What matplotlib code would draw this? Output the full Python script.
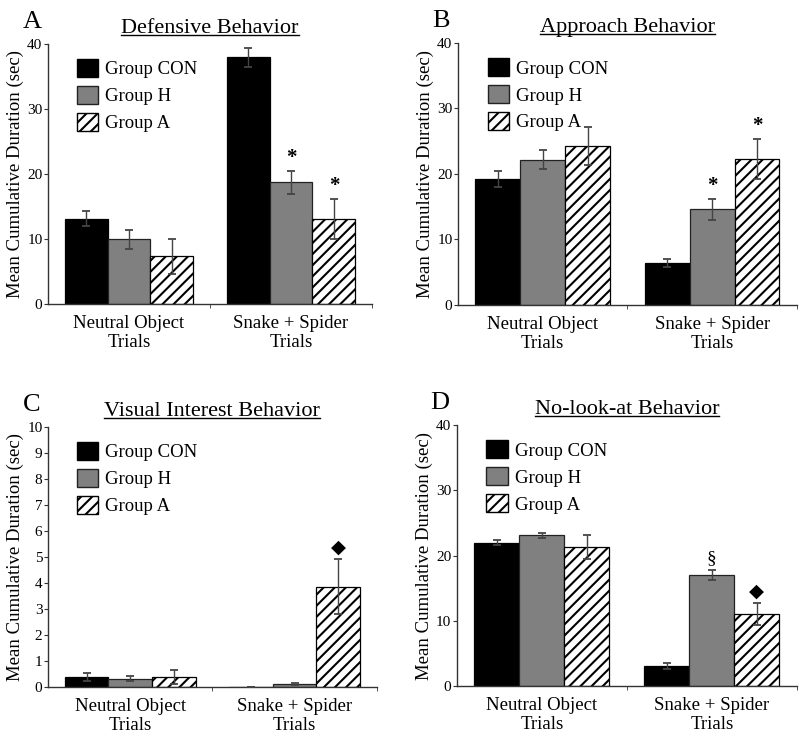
import matplotlib
matplotlib.use('Agg')
import matplotlib.pyplot as plt
from matplotlib.patches import Patch
from matplotlib.lines import Line2D
import numpy as np

plt.rcParams['font.family'] = ['Liberation Serif', 'DejaVu Serif']
plt.rcParams['hatch.linewidth'] = 1.5

# categories and groups
categories = ['Neutral Object\nTrials', 'Snake + Spider\nTrials']
groups = ['Group CON', 'Group H', 'Group A']

# panel A - defensive behavior (mean, error)
def_mean = {'CON': [13.1, 37.9], 'H': [9.9, 18.7], 'A': [7.3, 13.1]}
def_err = {'CON': [1.2, 1.5], 'H': [1.5, 1.8], 'A': [2.7, 3.1]}

# panel B - approach behavior
app_mean = {'CON': [19.2, 6.4], 'H': [22.2, 14.6], 'A': [24.2, 22.3]}
app_err = {'CON': [1.2, 0.6], 'H': [1.4, 1.6], 'A': [2.9, 3.0]}

# panel C - visual interest behavior
vis_mean = {'CON': [0.38, 0.0], 'H': [0.32, 0.10], 'A': [0.38, 3.85]}
vis_err = {'CON': [0.16, 0.0], 'H': [0.09, 0.04], 'A': [0.26, 1.06]}

# panel D - no-look-at behavior
nol_mean = {'CON': [22.0, 3.1], 'H': [23.1, 17.0], 'A': [21.25, 11.0]}
nol_err = {'CON': [0.4, 0.5], 'H': [0.4, 0.8], 'A': [1.85, 1.7]}

# significance marks: (group, category index, symbol)
def_marks = [('H', 1, '*'), ('A', 1, '*')]
app_marks = [('H', 1, '*'), ('A', 1, '*')]
vis_marks = [('A', 1, '\u25c6')]
nol_marks = [('H', 1, '\u00a7'), ('A', 1, '\u25c6')]

styles = {
    'CON': dict(color='black', edgecolor='black'),
    'H': dict(color='#808080', edgecolor='#222222'),
    'A': dict(color='white', edgecolor='black', hatch='///'),
}


def panel(fig, rect, letter, title, means, errs, marks, ymax, ystep):
    ax = fig.add_axes(rect)
    x = np.arange(len(categories))
    w = 0.265
    keys = ['CON', 'H', 'A']
    for i, k in enumerate(keys):
        pos = x + (i - 1) * w
        ax.bar(pos, means[k], w, linewidth=0.9, zorder=2, **styles[k])
        ax.errorbar(pos, means[k], yerr=errs[k], fmt='none', ecolor='#444444',
                    elinewidth=1.0, capsize=2.6, capthick=1.3, zorder=3)
    for k, ci, sym in marks:
        i = keys.index(k)
        top = means[k][ci] + errs[k][ci]
        size = 15 if sym == '*' else 14
        ax.annotate(sym, (x[ci] + (i - 1) * w, top), xytext=(0, 2),
                    textcoords='offset points', ha='center', va='bottom',
                    fontsize=size, fontweight='bold' if sym == '*' else 'normal',
                    family=['Liberation Serif', 'DejaVu Sans'])

    ax.set_xlim(-0.5, 1.5)
    ax.set_ylim(0, ymax)
    ax.set_yticks(np.arange(0, ymax + 0.01, ystep))
    ax.set_xticks(x)
    ax.set_xticklabels(categories, fontsize=13.5, linespacing=1.12)
    ax.set_xticks([0.5, 1.5], minor=True)
    ax.tick_params(axis='x', which='major', length=0, pad=8)
    ax.tick_params(axis='x', which='minor', length=3, direction='out', color='#333333')
    ax.tick_params(axis='y', length=3, direction='out', pad=1, labelsize=11, color='#333333')
    for s in ['top', 'right']:
        ax.spines[s].set_visible(False)
    for s in ['left', 'bottom']:
        ax.spines[s].set_color('#333333')
        ax.spines[s].set_linewidth(1.0)
    ax.set_ylabel('Mean Cumulative Duration (sec)', fontsize=13.5, labelpad=2)

    handles = [Patch(facecolor='black', edgecolor='black'),
               Patch(facecolor='#808080', edgecolor='#222222'),
               Patch(facecolor='white', edgecolor='black', hatch='///')]
    ax.legend(handles, groups, loc='upper left', bbox_to_anchor=(0.065, 0.97),
              frameon=False, fontsize=13.5, handlelength=1.15, handleheight=1.1,
              handletextpad=0.35, labelspacing=0.4, borderaxespad=0)

    t = ax.set_title(title, fontsize=16, pad=8)
    ax.text(-0.05, 1.06, letter, transform=ax.transAxes, fontsize=19,
            ha='center', va='baseline')
    return ax, t


fig = plt.figure(figsize=(8, 7.54), dpi=100)

axes = []
axes.append(panel(fig, [0.06, 0.597, 0.405, 0.345], 'A', 'Defensive Behavior',
                  def_mean, def_err, def_marks, 40, 10))
axes.append(panel(fig, [0.5725, 0.5955, 0.4235, 0.3475], 'B', 'Approach Behavior',
                  app_mean, app_err, app_marks, 40, 10))
axes.append(panel(fig, [0.06, 0.089, 0.411, 0.345], 'C', 'Visual Interest Behavior',
                  vis_mean, vis_err, vis_marks, 10, 1))
axes.append(panel(fig, [0.571, 0.0902, 0.425, 0.346], 'D', 'No-look-at Behavior',
                  nol_mean, nol_err, nol_marks, 40, 10))

# underline the titles
fig.canvas.draw()
r = fig.canvas.get_renderer()
inv = fig.transFigure.inverted()
for ax, t in axes:
    bb = t.get_window_extent(r)
    (x0, y0), (x1, y1) = inv.transform([[bb.x0, bb.y0], [bb.x1, bb.y1]])
    fig.add_artist(Line2D([x0, x1], [y0 + 0.004, y0 + 0.004], color='black',
                          linewidth=1.0, transform=fig.transFigure))

fig.savefig('out.png', dpi=100)
